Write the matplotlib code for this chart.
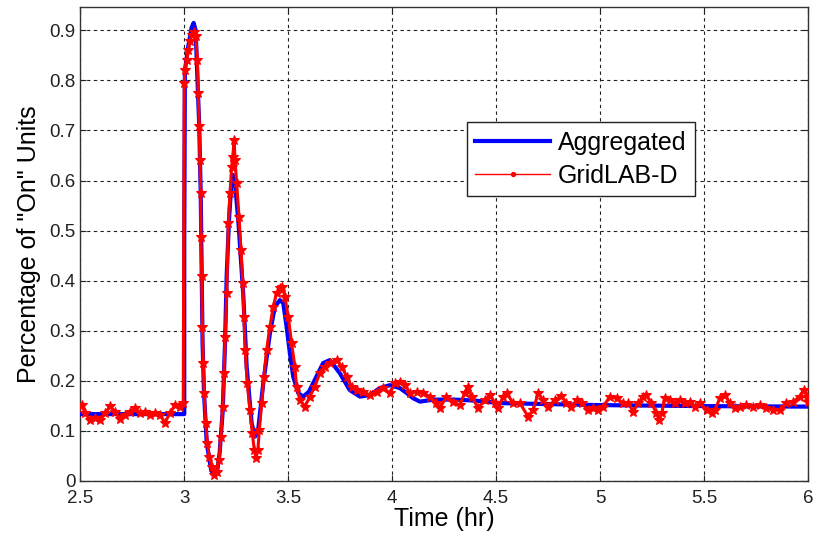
import matplotlib.pyplot as plt
import numpy as np

plt.rcParams['font.family'] = ['Liberation Sans', 'DejaVu Sans']

# Aggregated model (blue)
agg_t = [2.5, 2.7, 2.9, 2.999, 3.0, 3.0, 3.003, 3.02, 3.035, 3.045, 3.055, 3.06, 3.072,
         3.079, 3.084, 3.088, 3.095, 3.108, 3.13, 3.148, 3.158, 3.17, 3.185, 3.196,
         3.204, 3.215, 3.225, 3.235, 3.245, 3.26, 3.284, 3.3, 3.324, 3.34, 3.355, 3.38,
         3.412, 3.436, 3.46, 3.476, 3.492, 3.508, 3.524, 3.548, 3.572, 3.6, 3.62, 3.668,
         3.7, 3.748, 3.796, 3.845, 3.893, 3.94, 3.99, 4.037, 4.07, 4.1, 4.133, 4.2, 4.3,
         4.4, 4.52, 4.76, 5.0, 5.5, 6.0]
agg_v = [0.133, 0.133, 0.133, 0.133, 0.133, 0.48, 0.82, 0.87, 0.905, 0.915, 0.9, 0.84,
         0.708, 0.575, 0.41, 0.275, 0.175, 0.075, 0.02, 0.012, 0.018, 0.055, 0.14, 0.275,
         0.41, 0.52, 0.585, 0.611, 0.59, 0.52, 0.37, 0.228, 0.115, 0.088, 0.1, 0.195,
         0.295, 0.348, 0.361, 0.355, 0.308, 0.255, 0.208, 0.175, 0.168, 0.178, 0.195,
         0.235, 0.241, 0.215, 0.181, 0.168, 0.171, 0.185, 0.191, 0.185, 0.175, 0.165,
         0.158, 0.162, 0.162, 0.16, 0.155, 0.153, 0.151, 0.149, 0.148]

# GridLAB-D simulation (red)
gld_t = [2.507, 2.523, 2.547, 2.571, 2.595, 2.619, 2.643, 2.667, 2.69, 2.715, 2.739,
         2.763, 2.787, 2.811, 2.835, 2.859, 2.883, 2.907, 2.931, 2.955, 2.979, 2.995,
         3.0, 3.003, 3.011, 3.02, 3.027, 3.035, 3.047, 3.056, 3.063, 3.067, 3.072, 3.075,
         3.079, 3.08, 3.084, 3.087, 3.091, 3.096, 3.103, 3.111, 3.12, 3.132, 3.144,
         3.156, 3.167, 3.176, 3.185, 3.191, 3.197, 3.204, 3.212, 3.22, 3.228, 3.233,
         3.24, 3.244, 3.252, 3.263, 3.273, 3.281, 3.287, 3.293, 3.303, 3.316, 3.327,
         3.337, 3.345, 3.354, 3.361, 3.372, 3.383, 3.396, 3.412, 3.428, 3.444, 3.46,
         3.471, 3.484, 3.5, 3.516, 3.532, 3.54, 3.556, 3.58, 3.604, 3.628, 3.652, 3.676,
         3.7, 3.733, 3.757, 3.781, 3.805, 3.829, 3.86, 3.893, 3.925, 3.957, 3.989,
         4.013, 4.037, 4.061, 4.085, 4.117, 4.149, 4.181, 4.213, 4.229, 4.261, 4.293,
         4.325, 4.349, 4.365, 4.382, 4.414, 4.445, 4.47, 4.494, 4.51, 4.534, 4.55,
         4.582, 4.614, 4.654, 4.678, 4.702, 4.726, 4.75, 4.782, 4.814, 4.838, 4.862,
         4.887, 4.911, 4.943, 4.967, 4.99, 5.015, 5.047, 5.079, 5.111, 5.135, 5.159,
         5.183, 5.207, 5.223, 5.247, 5.271, 5.284, 5.296, 5.312, 5.336, 5.36, 5.384,
         5.408, 5.432, 5.456, 5.48, 5.512, 5.537, 5.552, 5.576, 5.6, 5.624, 5.648,
         5.672, 5.704, 5.736, 5.768, 5.8, 5.832, 5.864, 5.896, 5.928, 5.96, 5.979,
         5.995, 6.0]
gld_v = [0.151, 0.135, 0.121, 0.125, 0.121, 0.135, 0.149, 0.138, 0.123, 0.131, 0.138,
         0.145, 0.135, 0.138, 0.131, 0.135, 0.131, 0.116, 0.135, 0.151, 0.148, 0.155,
         0.795, 0.82, 0.84, 0.86, 0.878, 0.891, 0.896, 0.888, 0.841, 0.775, 0.708, 0.641,
         0.575, 0.488, 0.41, 0.308, 0.235, 0.175, 0.115, 0.075, 0.048, 0.028, 0.011,
         0.018, 0.041, 0.088, 0.148, 0.215, 0.288, 0.375, 0.515, 0.575, 0.628, 0.648,
         0.681, 0.641, 0.595, 0.528, 0.461, 0.395, 0.328, 0.261, 0.195, 0.141, 0.095,
         0.061, 0.045, 0.061, 0.101, 0.155, 0.208, 0.261, 0.308, 0.348, 0.375, 0.385,
         0.388, 0.368, 0.328, 0.275, 0.228, 0.188, 0.161, 0.148, 0.168, 0.188, 0.215,
         0.228, 0.235, 0.241, 0.228, 0.208, 0.188, 0.181, 0.178, 0.171, 0.178, 0.185,
         0.175, 0.195, 0.198, 0.191, 0.175, 0.178, 0.175, 0.168, 0.155, 0.145, 0.168,
         0.158, 0.151, 0.175, 0.188, 0.168, 0.145, 0.161, 0.171, 0.155, 0.145, 0.168,
         0.175, 0.155, 0.155, 0.128, 0.141, 0.175, 0.161, 0.148, 0.161, 0.169, 0.155,
         0.148, 0.161, 0.155, 0.141, 0.145, 0.141, 0.148, 0.168, 0.165, 0.155, 0.155,
         0.138, 0.155, 0.168, 0.171, 0.155, 0.135, 0.121, 0.135, 0.165, 0.161, 0.155,
         0.161, 0.155, 0.158, 0.148, 0.155, 0.141, 0.135, 0.141, 0.165, 0.171, 0.155,
         0.145, 0.148, 0.151, 0.148, 0.151, 0.145, 0.141, 0.141, 0.155, 0.158, 0.168,
         0.181, 0.168, 0.158]

x_ticks = [2.5, 3, 3.5, 4, 4.5, 5, 5.5, 6]
x_tick_labels = ['2.5', '3', '3.5', '4', '4.5', '5', '5.5', '6']
y_ticks = [0, 0.1, 0.2, 0.3, 0.4, 0.5, 0.6, 0.7, 0.8, 0.9]
y_tick_labels = ['0', '0.1', '0.2', '0.3', '0.4', '0.5', '0.6', '0.7', '0.8', '0.9']

fig = plt.figure(figsize=(8.17, 5.42), dpi=100)
ax = fig.add_axes([0.0983, 0.1132, 0.8907, 0.874])

ax.plot(agg_t, agg_v, color='#0000ff', linewidth=3, label='Aggregated', zorder=3)
ax.plot(gld_t, gld_v, color='#ff0000', linewidth=2.2, marker='*', markersize=7,
        markeredgewidth=0.8, label='GridLAB-D', zorder=4)

ax.set_xlim(2.5, 6)
ax.set_ylim(0, 0.947)
ax.set_xticks(x_ticks)
ax.set_xticklabels(x_tick_labels)
ax.set_yticks(y_ticks)
ax.set_yticklabels(y_tick_labels)

ax.grid(True, color='#222222', linestyle=(0, (3, 3)), linewidth=0.8)
ax.tick_params(direction='in', top=True, right=True, length=4, labelsize=13.5,
               colors='#222222')
ax.tick_params(axis='x', pad=7)
for sp in ax.spines.values():
    sp.set_color('#333333')
    sp.set_linewidth(1.0)

ax.set_xlabel('Time (hr)', fontsize=18, labelpad=0)
ax.set_ylabel('Percentage of "On" Units', fontsize=18, labelpad=6)

leg = ax.legend(loc='upper left', bbox_to_anchor=(0.531, 0.757), fontsize=18,
                fancybox=False, framealpha=1, edgecolor='#222222',
                borderpad=0.35, labelspacing=0.35, handlelength=3.0,
                handletextpad=0.3, borderaxespad=0)
leg.get_frame().set_linewidth(1.0)
red_handle = leg.legend_handles[1]
red_handle.set_linewidth(1.0)
red_handle.set_marker('.')
red_handle.set_markersize(6)

fig.savefig('out.png', dpi=100)
